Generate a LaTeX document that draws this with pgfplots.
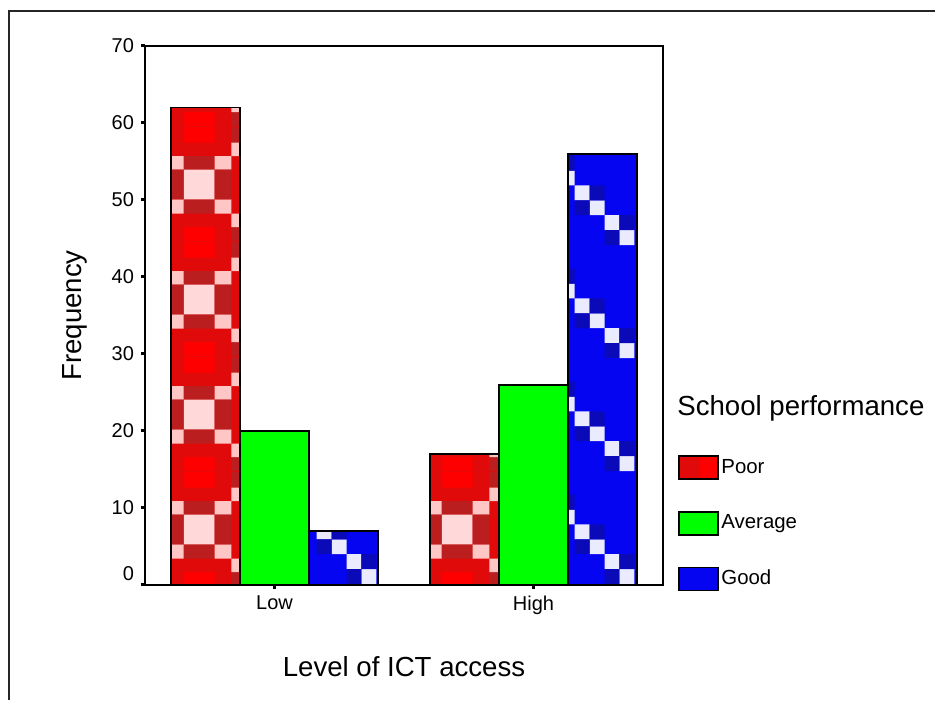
\documentclass[border=0pt]{standalone}
\usepackage{fontspec}
\setmainfont{Liberation Sans}
\usepackage{pgfplots}
\pgfplotsset{compat=1.18}
\usetikzlibrary{patterns}

\definecolor{plaidBright}{HTML}{FF0000}
\definecolor{plaidMid}{HTML}{E10A0A}
\definecolor{plaidDark}{HTML}{BA1E1E}
\definecolor{plaidPink}{HTML}{FFD9D9}
\definecolor{plaidRose}{HTML}{FFC6C6}
\definecolor{spssGreen}{HTML}{00FF00}
\definecolor{checkBlue}{HTML}{0505F2}
\definecolor{checkDark}{HTML}{0A0AB8}
\definecolor{checkLight}{HTML}{EBEBFF}

% one filled cell of a pattern tile, corners in pt
\newcommand\cell[5]{\pgfsetfillcolor{#1}\pgfpathrectanglecorners{\pgfpoint{#2pt}{#3pt}}{\pgfpoint{#4pt}{#5pt}}\pgfusepath{fill}}

% SPSS-like red plaid
\pgfdeclarepatterninherentlycolored{redplaid}{\pgfpointorigin}{\pgfpoint{64.5pt}{57.5pt}}{\pgfpoint{64.5pt}{57.5pt}}{%
  \cell{plaidMid}{0}{0}{64.5}{57.5}%
  \cell{plaidBright}{27.5}{49.5}{43}{57.5}\cell{plaidBright}{27.5}{0}{43}{7}%
  \cell{plaidDark}{27.5}{13.75}{43}{21}\cell{plaidDark}{27.5}{36}{43}{42.75}%
  \cell{plaidPink}{27.5}{21}{43}{36}%
  \cell{plaidRose}{21.5}{13.75}{27.5}{21}\cell{plaidRose}{21.5}{36}{27.5}{42.75}\cell{plaidDark}{21.5}{21}{27.5}{36}%
  \cell{plaidRose}{43}{13.75}{51.5}{21}\cell{plaidRose}{43}{36}{51.5}{42.75}\cell{plaidDark}{43}{21}{51.5}{36}%
  \cell{plaidDark}{51.5}{49.5}{56}{57.5}\cell{plaidDark}{51.5}{0}{56}{7}%
  \cell{plaidRose}{51.5}{7}{56}{13.75}\cell{plaidRose}{51.5}{42.75}{56}{49.5}%
}

% SPSS-like blue diagonal checks
\pgfdeclarepatterninherentlycolored{bluecheck}{\pgfpointorigin}{\pgfpoint{64.5pt}{56.5pt}}{\pgfpoint{64.5pt}{56.5pt}}{%
  \cell{checkBlue}{0}{0}{64.5}{56.5}%
  \cell{checkLight}{14.5}{39}{22}{46.5}\cell{checkLight}{22}{31.5}{29.5}{39}%
  \cell{checkLight}{29.5}{24}{37}{31.5}\cell{checkLight}{37}{16.5}{44.5}{24}%
  \cell{checkLight}{44.5}{9}{52}{16.5}\cell{checkLight}{52}{1.5}{59.5}{9}%
  \cell{checkDark}{22}{39}{29.5}{46.5}\cell{checkDark}{14.5}{31.5}{22}{39}%
  \cell{checkDark}{37}{24}{44.5}{31.5}\cell{checkDark}{29.5}{16.5}{37}{24}%
  \cell{checkDark}{52}{9}{59.5}{16.5}\cell{checkDark}{44.5}{1.5}{52}{9}%
}

\begin{document}
\begin{tikzpicture}
\useasboundingbox (0,0) rectangle (467.5pt,350pt);
\draw[line width=1pt, black!85] (4.5pt,0) -- (4.5pt,344.5pt) -- (467.5pt,344.5pt);

\begin{axis}[
  at={(72.5pt,57.5pt)}, anchor=south west,
  scale only axis, width=259pt, height=269.5pt,
  ybar=0pt, bar width=0.266,
  xmin=-0.5, xmax=1.5, ymin=0, ymax=70,
  xtick={0,1}, xticklabels={Low,High},
  ytick={10,20,30,40,50,60,70},
  extra y ticks={0},
  extra y tick style={yticklabel style={yshift=5.5pt}},
  tick pos=left, tick align=outside,
  major tick length=2pt,
  every tick/.style={black, line width=1.5pt},
  axis line style={line width=0.8pt},
  ticklabel style={font=\fontsize{10}{12}\selectfont},
  /pgf/number format/assume math mode=true,
  xlabel={Level of ICT access},
  ylabel={Frequency},
  label style={font=\fontsize{13.8}{16}\selectfont},
  xlabel style={at={(axis description cs:0.5,-0.152)}, anchor=center},
  ylabel style={at={(axis description cs:-0.135,0.5)}, anchor=center},
  legend cell align=left,
  legend style={at={(rel axis cs:1.029,0.2412)}, anchor=north west,
    draw=none, fill=none, inner sep=0pt, row sep=15.5pt, column sep=1.2pt,
    nodes={inner sep=0pt, font=\fontsize{10.2}{12}\selectfont}},
]
\addplot[draw=black, line width=0.8pt, fill=plaidMid, postaction={pattern=redplaid},
  legend image code/.code={\draw[draw=black, line width=0.8pt, fill=plaidBright] (0pt,-5.75pt) rectangle (19.5pt,5.75pt);}]
  coordinates {(0,62) (1,17)};
\addlegendentry{Poor}
\addplot[draw=black, line width=0.8pt, fill=spssGreen,
  legend image code/.code={\draw[draw=black, line width=0.8pt, fill=spssGreen] (0pt,-5.75pt) rectangle (19.5pt,5.75pt);}]
  coordinates {(0,20) (1,26)};
\addlegendentry{Average}
\addplot[draw=black, line width=0.8pt, fill=checkBlue, postaction={pattern=bluecheck},
  legend image code/.code={\draw[draw=black, line width=0.8pt, fill=checkBlue] (0pt,-5.75pt) rectangle (19.5pt,5.75pt);}]
  coordinates {(0,7) (1,56)};
\addlegendentry{Good}
\end{axis}

\node[anchor=west, inner sep=0pt, font=\fontsize{13.8}{16}\selectfont] at (338.5pt,146pt) {School performance};
\end{tikzpicture}
\end{document}
